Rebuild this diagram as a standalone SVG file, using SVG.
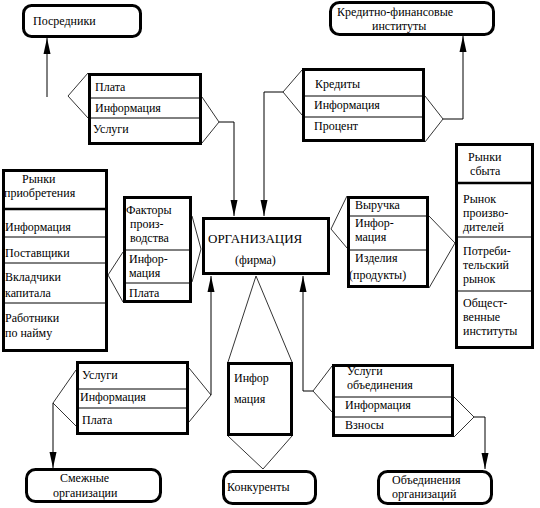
<svg xmlns="http://www.w3.org/2000/svg" width="540" height="508" viewBox="0 0 540 508">
<defs>
<style>
.box{fill:#fff;stroke:#000;stroke-width:3}
.rbox{fill:#fff;stroke:#000;stroke-width:3}
.row{stroke:#000;stroke-width:1;fill:none}
.sep{stroke:#000;stroke-width:2.5;fill:none}
.br{fill:none;stroke:#000;stroke-width:0.8}
.ln{fill:none;stroke:#000;stroke-width:1}
text{font-family:"Liberation Serif","DejaVu Serif",serif;font-size:12px;fill:#000}
</style>
<marker id="ah" markerUnits="userSpaceOnUse" markerWidth="17" markerHeight="8" refX="16" refY="4" orient="auto">
<path d="M0,0.5 L16,4 L0,7.5 z" fill="#000"/>
</marker>
</defs>
<rect width="540" height="508" fill="#fff"/>

<g id="connectors">
<line class="ln" x1="47" y1="97" x2="47" y2="38" marker-end="url(#ah)"/>
<polyline class="br" points="88,73 68,96 88,118"/>
<polyline class="br" points="202,97 219,122 202,143"/>
<polyline class="ln" points="219,122 234,122 234,216" marker-end="url(#ah)"/>
<polyline class="br" points="302,70 283,92 302,115"/>
<polyline class="ln" points="283,92 264,92 264,216" marker-end="url(#ah)"/>
<polyline class="br" points="425,96 443,119 425,142"/>
<polyline class="ln" points="443,119 463,119 463,36" marker-end="url(#ah)"/>
<polyline class="br" points="123,252 108,275 123,302"/>
<polyline class="br" points="192,216 201,249 192,282"/>
<polyline class="br" points="347,196 331,229 347,248"/>
<polyline class="br" points="429,216 455,243 429,288"/>
<polyline class="br" points="76,370 53,403 76,426"/>
<line class="ln" x1="53" y1="403" x2="53" y2="468" marker-end="url(#ah)"/>
<polyline class="br" points="189,368 211,395 189,422"/>
<line class="ln" x1="211" y1="395" x2="211" y2="276" marker-end="url(#ah)"/>
<polyline class="br" points="228,362 256,276 292,362"/>
<polyline class="br" points="228,436 263,469 292,436"/>
<polyline class="br" points="332,366 313,391 332,412"/>
<polyline class="ln" points="313,391 303,391 303,276" marker-end="url(#ah)"/>
<polyline class="br" points="454,397 474,417 454,437"/>
<polyline class="ln" points="474,417 485,417 485,469" marker-end="url(#ah)"/>
</g>

<g id="posredniki">
<rect class="rbox" x="23.5" y="5.5" width="117" height="31" rx="8"/>
<text x="33" y="25">Посредники</text>
</g>

<g id="kreditno">
<rect class="rbox" x="330.5" y="2.5" width="163" height="32" rx="9"/>
<text x="337" y="16">Кредитно-финансовые</text>
<text x="372" y="30">институты</text>
</g>

<g id="plata-top">
<rect class="box" x="89.5" y="74.5" width="111" height="69"/>
<line class="row" x1="89" y1="98" x2="201" y2="98"/>
<line class="row" x1="89" y1="118" x2="201" y2="118"/>
<text x="95" y="91">Плата</text>
<text x="95" y="112">Информация</text>
<text x="93" y="133">Услуги</text>
</g>

<g id="kredity">
<rect class="box" x="303.5" y="69.5" width="120" height="71"/>
<line class="row" x1="303" y1="96" x2="424" y2="96"/>
<line class="row" x1="303" y1="117" x2="424" y2="117"/>
<text x="315" y="88">Кредиты</text>
<text x="314" y="109">Информация</text>
<text x="314" y="130">Процент</text>
</g>

<g id="rynki-priobr">
<rect class="box" x="3.5" y="170.5" width="103" height="180"/>
<line class="sep" x1="3" y1="209" x2="107" y2="209"/>
<line class="row" x1="3" y1="237" x2="107" y2="237"/>
<line class="row" x1="3" y1="263" x2="107" y2="263"/>
<line class="row" x1="3" y1="303" x2="107" y2="303"/>
<text x="22" y="183">Рынки</text>
<text x="4" y="197">приобретения</text>
<text x="5" y="231">Информация</text>
<text x="5" y="257">Поставщики</text>
<text x="5" y="281">Вкладчики</text>
<text x="5" y="297">капитала</text>
<text x="5" y="322">Работники</text>
<text x="5" y="337">по найму</text>
</g>

<g id="faktory">
<rect class="box" x="124.5" y="197.5" width="66" height="104"/>
<line class="row" x1="124" y1="250" x2="191" y2="250"/>
<line class="row" x1="124" y1="283" x2="191" y2="283"/>
<text x="126" y="214">Факторы</text>
<text x="130" y="228">произ-</text>
<text x="130" y="242">водства</text>
<text x="129" y="263">Инфор-</text>
<text x="129" y="277">мация</text>
<text x="129" y="297">Плата</text>
</g>

<g id="organizaciya">
<rect class="box" x="203.5" y="218.5" width="125" height="55"/>
<text x="208" y="243" style="font-size:13px">ОРГАНИЗАЦИЯ</text>
<text x="235" y="264">(фирма)</text>
</g>

<g id="vyruchka">
<rect class="box" x="348.5" y="197.5" width="79" height="89"/>
<line class="row" x1="348" y1="216" x2="428" y2="216"/>
<line class="row" x1="348" y1="250" x2="428" y2="250"/>
<text x="355" y="209">Выручка</text>
<text x="355" y="227">Инфор-</text>
<text x="355" y="241">мация</text>
<text x="355" y="262">Изделия</text>
<text x="349" y="279">(продукты)</text>
</g>

<g id="rynki-sbyta">
<rect class="box" x="456.5" y="144.5" width="76" height="203"/>
<line class="sep" x1="456" y1="183" x2="533" y2="183"/>
<line class="row" x1="456" y1="237" x2="533" y2="237"/>
<line class="row" x1="456" y1="291" x2="533" y2="291"/>
<text x="468" y="161">Рынки</text>
<text x="470" y="175">сбыта</text>
<text x="463" y="203">Рынок</text>
<text x="463" y="217">произво-</text>
<text x="463" y="231">дителей</text>
<text x="463" y="255">Потреби-</text>
<text x="463" y="269">тельский</text>
<text x="463" y="283">рынок</text>
<text x="463" y="307">Общест-</text>
<text x="463" y="321">венные</text>
<text x="463" y="335">институты</text>
</g>

<g id="uslugi-bottom">
<rect class="box" x="77.5" y="362.5" width="110" height="71"/>
<line class="row" x1="77" y1="389" x2="188" y2="389"/>
<line class="row" x1="77" y1="408" x2="188" y2="408"/>
<text x="82" y="379">Услуги</text>
<text x="80" y="401">Информация</text>
<text x="82" y="424">Плата</text>
</g>

<g id="informaciya-center">
<rect class="box" x="228.5" y="363.5" width="63" height="71"/>
<text x="234" y="382">Инфор</text>
<text x="234" y="403">мация</text>
</g>

<g id="uslugi-obed">
<rect class="box" x="333.5" y="365.5" width="119" height="70"/>
<line class="row" x1="333" y1="397" x2="453" y2="397"/>
<line class="row" x1="333" y1="417" x2="453" y2="417"/>
<text x="347" y="375">Услуги</text>
<text x="347" y="389">объединения</text>
<text x="345" y="409">Информация</text>
<text x="345" y="429">Взносы</text>
</g>

<g id="smezhnye">
<rect class="rbox" x="26.5" y="469.5" width="134" height="32" rx="9"/>
<text x="60" y="482">Смежные</text>
<text x="53" y="497">организации</text>
</g>

<g id="konkurenty">
<rect class="rbox" x="223.5" y="471.5" width="92" height="32" rx="9"/>
<text x="227" y="491">Конкуренты</text>
</g>

<g id="obedineniya">
<rect class="rbox" x="378.5" y="471.5" width="113" height="32" rx="9"/>
<text x="392" y="484">Объединения</text>
<text x="392" y="498">организаций</text>
</g>
</svg>
